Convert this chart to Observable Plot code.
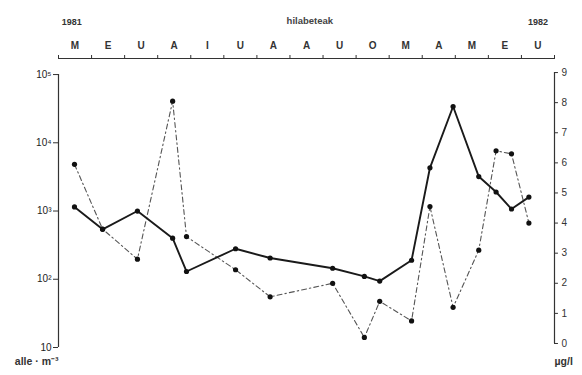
<!DOCTYPE html>
<html>
<head>
<meta charset="utf-8">
<script src="https://cdn.jsdelivr.net/npm/d3@7"></script>
<script src="https://cdn.jsdelivr.net/npm/@observablehq/plot@0.6"></script>
<style>
  html, body { margin: 0; padding: 0; background: #fff; }
  #chart svg { display: block; }
</style>
</head>
<body>
<div id="chart"></div>
<script>
// Month initials (Basque), May 1981 .. July 1982
const monthLabels = ["M","E","U","A","I","U","A","A","U","O","M","A","M","E","U"];
const yearLabels = ["1981", "1982"];
const axisTitle = "hilabeteak";
// Sampling dates
const dates = ["1981-05-16","1981-06-11","1981-07-13","1981-08-15","1981-08-28","1981-10-12",
  "1981-11-13","1982-01-10","1982-02-08","1982-02-21","1982-03-22","1982-04-08",
  "1982-04-29","1982-05-23","1982-06-08","1982-06-22","1982-07-08"];
// Solid series: individuals per m3 (left, log scale)
const individuals = [1150, 540, 1000, 400, 130, 280, 205, 145, 110, 94, 190, 4300, 34000, 3200, 1900, 1070, 1600];
// Dash-dot series: µg/l (right, linear scale)
const concentration = [5.95, 3.8, 2.8, 8.05, 3.55, 2.45, 1.55, 2.0, 0.2, 1.4, 0.75, 4.55, 1.2, 3.1, 6.4, 6.3, 4.0];
const leftTicks = [10, 100, 1000, 10000, 100000];
const leftTickLabels = ["10", "10²", "10³", "10⁴", "10⁵"];
const rightTicks = [0,1,2,3,4,5,6,7,8,9];
const leftUnit = "alle · m⁻³";
const rightUnit = "µg/l";

// fractional month index since 1 May 1981
function monthIndex(s) {
  const [y, m, d] = s.split("-").map(Number);
  const days = new Date(Date.UTC(y, m, 0)).getUTCDate();
  return (y - 1981) * 12 + (m - 5) + (d - 1) / days;
}
// right axis (0..9 µg/l) placed on the left log scale
const PX_PER_DECADE = 68;
const toLog = v => Math.pow(10, 1 + (4 + 30 * v) / PX_PER_DECADE);

const solid = dates.map((d, i) => ({x: monthIndex(d), y: individuals[i]}));
const dashed = dates.map((d, i) => ({x: monthIndex(d), y: toLog(concentration[i])}));
const topVal = Math.pow(10, 5 + 16 / PX_PER_DECADE);
const font = "'Liberation Sans', Arial, sans-serif";

const chart = Plot.plot({
  width: 582,
  height: 375,
  marginLeft: 58,
  marginRight: 28,
  marginTop: 58,
  marginBottom: 28,
  style: {fontFamily: font, fontSize: "9px", color: "#222", background: "#fff"},
  x: {domain: [0, 15]},
  y: {type: "log", domain: [10, topVal]},
  marks: [
    // top month axis
    Plot.ruleY([topVal], {x1: 0, x2: 15, stroke: "#333", strokeWidth: 1.2}),
    Plot.axisX({anchor: "top", ticks: d3.range(16), tickSize: 4, tickFormat: () => "", label: null, stroke: "#333"}),
    Plot.text(monthLabels, {x: (d, i) => i + 0.5, frameAnchor: "top", dy: -17, text: d => d,
      fontSize: 10, fontWeight: "bold", fill: "#333"}),
    Plot.text(yearLabels, {x: (d, i) => i === 0 ? 0.4 : 14.5, frameAnchor: "top", dy: -40, text: d => d,
      fontSize: 9, fontWeight: "bold", fill: "#333"}),
    Plot.text([axisTitle], {x: 7.6, frameAnchor: "top", dy: -41, text: d => d,
      fontSize: 9.5, fontWeight: "bold", fill: "#444"}),
    // left log axis
    Plot.ruleX([0], {y1: 10, y2: 100000, stroke: "#333", strokeWidth: 1.2}),
    Plot.axisY({anchor: "left", ticks: leftTicks, tickSize: 5, tickPadding: 2, label: null,
      tickFormat: d => leftTickLabels[leftTicks.indexOf(d)], fontSize: 10, stroke: "#333"}),
    Plot.text([leftUnit], {frameAnchor: "bottom-left", textAnchor: "end", dy: 17, dx: 0, text: d => d,
      fontSize: 10.5, fontWeight: "bold", fill: "#333"}),
    // right linear axis (drawn on the shared scale)
    Plot.ruleX([15], {y1: toLog(0), y2: toLog(9), stroke: "#333", strokeWidth: 1.2}),
    Plot.ruleY(rightTicks, {y: d => toLog(d), x1: 15, x2: 15.12, stroke: "#333", strokeWidth: 1}),
    Plot.text(rightTicks, {x: 15, y: d => toLog(d), text: d => String(d), dx: 7, textAnchor: "start",
      fontSize: 10, fill: "#333"}),
    Plot.text([rightUnit], {frameAnchor: "bottom-right", textAnchor: "start", dy: 17, dx: 0, text: d => d,
      fontSize: 10.5, fontWeight: "bold", fill: "#333"}),
    // series
    Plot.line(dashed, {x: "x", y: "y", stroke: "#555", strokeWidth: 1.1, strokeDasharray: "5,3,1.5,3"}),
    Plot.line(solid, {x: "x", y: "y", stroke: "#1a1a1a", strokeWidth: 1.9}),
    Plot.dot(dashed, {x: "x", y: "y", r: 2.6, fill: "#111", stroke: "none"}),
    Plot.dot(solid, {x: "x", y: "y", r: 2.6, fill: "#111", stroke: "none"})
  ]
});
document.getElementById("chart").appendChild(chart);
</script>
</body>
</html>
